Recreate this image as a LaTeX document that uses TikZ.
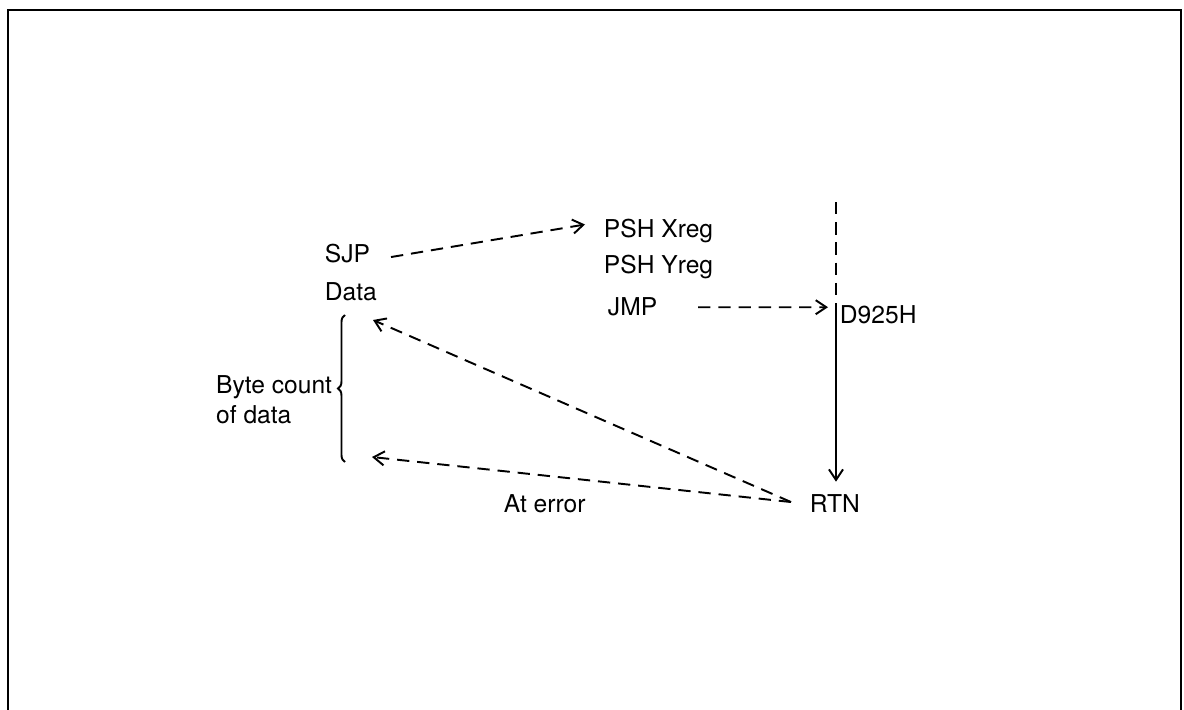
\documentclass[tikz,border=0pt]{standalone}
\usepackage{fontspec}
\setmainfont{TeX Gyre Heros}
\usetikzlibrary{arrows.meta, positioning, decorations.pathreplacing}

\begin{document}
\begin{tikzpicture}[x=0.02cm, y=-0.02cm, line width=1.1pt,
    >={Straight Barb[length=6pt, width=8pt]},
    every node/.style={font=\fontsize{14}{17}\selectfont, inner sep=0pt, anchor=base west},
    jump/.style={dash pattern=on 7pt off 4.5pt, ->}]
  % subroutine call through SJP and return via RTN
  \useasboundingbox (0,0) rectangle (1184,710);
  \draw[line width=1.2pt] (8,710) -- (8,10) -- (1181,10) -- (1181,710);
  \node (sjp) at (324,262) {SJP};
  \node (data) at (324,300) {Data};
  \node (xreg) at (603,237) {PSH Xreg};
  \node (yreg) at (603,273) {PSH Yreg};
  \node (jmp) at (607,315) {JMP};
  \node (rom) at (839,323) {D925H};
  \node (rtn) at (809,512) {RTN};
  \node (err) at (503,512) {At error};
  \node[align=left, anchor=east] (count) at (333,400) {Byte count\\of data};
  \coordinate (btop) at (345,315);
  \coordinate (bbot) at (345,462);
  \coordinate (feed) at (836,202);
  \coordinate (junc) at (836,312);
  \coordinate (ret) at ([shift={(-18,-1)}]rtn.west);
  \draw[decorate, decoration={brace, amplitude=4pt}] (bbot) -- (btop);
  \draw[jump] ([shift={(20,4)}]sjp.east) -- ([shift={(-18,-6)}]xreg.west);
  \draw[jump] ([shift={(40,1)}]jmp.east) -- ([shift={(-11,-7)}]rom.west);
  \draw[dash pattern=on 7pt off 4.5pt] (feed) -- (junc);
  \draw[->, shorten >=6.5pt] (junc) -- (junc |- rtn.north);
  \draw[jump] (ret) -- ([shift={(28,5)}]btop);
  \draw[jump] (ret) -- ([shift={(27,-5)}]bbot);
\end{tikzpicture}
\end{document}
